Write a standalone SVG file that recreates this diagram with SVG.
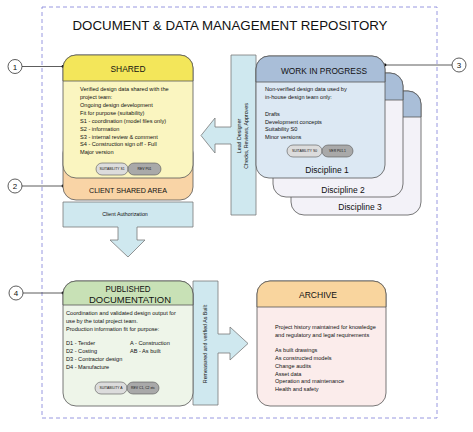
<svg xmlns="http://www.w3.org/2000/svg" width="473" height="432" viewBox="0 0 473 432">
<style>
text{font-family:"Liberation Sans",Arial,sans-serif;fill:#111}
.bd{font-size:5.6px}
.pl{font-size:3.4px;text-anchor:middle}
.bx{stroke:#555;stroke-width:0.8}
.bar{fill:#cfe8ef;stroke:#7a7a7a;stroke-width:0.8}
.cl{stroke:#333;stroke-width:0.8;fill:none}
.cc{fill:#fff;stroke:#333;stroke-width:0.8}
.cn{font-size:8px;text-anchor:middle}
.p1{fill:#dcdcdc;stroke:#555;stroke-width:0.6}
.p2{fill:#a9a9a9;stroke:#555;stroke-width:0.6}
.disc{font-size:8.5px;text-anchor:middle}
.rot{font-size:5.3px;text-anchor:middle}
</style>
<rect x="0" y="0" width="473" height="432" fill="#fff"/>
<rect x="42" y="7" width="395" height="411" fill="none" stroke="#8c8cdc" stroke-width="0.9" stroke-dasharray="4,3"/>
<text x="230" y="30" font-size="13" text-anchor="middle" textLength="315" lengthAdjust="spacingAndGlyphs">DOCUMENT &amp; DATA MANAGEMENT REPOSITORY</text>

<g id="connectors">
  <g id="lead-designer-arrow">
    <path class="bar" d="M231,55 H256 V215 H231 V144 H215 V153 L201,135.5 L215,118 V127 H231 Z"/>
    <text class="rot" transform="translate(241,136) rotate(-90)">Lead Designer</text>
    <text class="rot" transform="translate(248,136) rotate(-90)">Checks, Reviews, Approves</text>
  </g>
  <g id="client-authorization-arrow">
    <path class="bar" d="M63,202 H193 V227 H137 V240 H145 L128,257 L110,240 H118 V227 H63 Z"/>
    <text x="125" y="216" font-size="5.3" text-anchor="middle">Client Authorization</text>
  </g>
  <g id="remeasured-arrow">
    <path class="bar" d="M193,281 H218 V334 H230 V327 L248,343.5 L230,360 V353 H218 V405 H193 Z"/>
    <text class="rot" transform="translate(207,344) rotate(-90)">Remeasured and verified As Built</text>
  </g>
  <g id="callout-lines">
    <line class="cl" x1="22" y1="66.5" x2="63" y2="66.5"/>
    <circle cx="63" cy="66.5" r="1.4" fill="#111"/>
    <line class="cl" x1="22" y1="186" x2="63" y2="186"/>
    <circle cx="63" cy="186" r="1.4" fill="#111"/>
    <line class="cl" x1="385" y1="65" x2="452" y2="65"/>
    <circle cx="385" cy="65" r="1.4" fill="#111"/>
    <line class="cl" x1="23" y1="293" x2="63" y2="293"/>
    <circle cx="63" cy="293" r="1.4" fill="#111"/>
  </g>
</g>

<g id="callout-1"><circle class="cc" cx="15" cy="66.5" r="7"/><text class="cn" x="15" y="69.5">1</text></g>
<g id="callout-2"><circle class="cc" cx="15" cy="186" r="7"/><text class="cn" x="15" y="189">2</text></g>
<g id="callout-3"><circle class="cc" cx="459" cy="65" r="7"/><text class="cn" x="459" y="68">3</text></g>
<g id="callout-4"><circle class="cc" cx="16" cy="293" r="7"/><text class="cn" x="16" y="296">4</text></g>

<g id="client-shared-area">
  <rect class="bx" x="63" y="140" width="130" height="60" rx="13" fill="#f9d4a6"/>
  <text x="128" y="193" font-size="8" text-anchor="middle" textLength="78" lengthAdjust="spacingAndGlyphs">CLIENT SHARED AREA</text>
</g>

<g id="shared">
  <rect class="bx" x="63" y="55" width="130" height="123" rx="13" fill="#faf5c0"/>
  <path class="bx" d="M63,81 V68 A13,13 0 0 1 76,55 H180 A13,13 0 0 1 193,68 V81 Z" fill="#f3e65a"/>
  <text x="128" y="72" font-size="8.5" text-anchor="middle" textLength="35" lengthAdjust="spacingAndGlyphs">SHARED</text>
  <g class="bd">
    <text x="80" y="91">Verified design data shared with the</text>
    <text x="80" y="99">project team:</text>
    <text x="80" y="107">Ongoing design development</text>
    <text x="80" y="115">Fit for purpose (suitability)</text>
    <text x="80" y="123">S1 - coordination (model files only)</text>
    <text x="80" y="131">S2 - information</text>
    <text x="80" y="138.5">S3 - internal review &amp; comment</text>
    <text x="80" y="146">S4 - Construction sign off - Full</text>
    <text x="80" y="154">Major version</text>
  </g>
  <rect class="p1" x="96" y="163" width="32" height="12" rx="6"/>
  <rect class="p2" x="128" y="163" width="33" height="12" rx="6"/>
  <text class="pl" x="112" y="170.2">SUITABILITY S1</text>
  <text class="pl" x="144.5" y="170.2">REV P01</text>
</g>

<g id="discipline-3">
  <rect class="bx" x="291" y="91" width="130" height="124" rx="13" fill="#f3f2f8"/>
  <path class="bx" d="M291,117 V104 A13,13 0 0 1 304,91 H408 A13,13 0 0 1 421,104 V117 Z" fill="#a9bed8"/>
  <text class="disc" x="360" y="210">Discipline 3</text>
</g>
<g id="discipline-2">
  <rect class="bx" x="273" y="73" width="130" height="124" rx="13" fill="#f3f2f8"/>
  <path class="bx" d="M273,100 V86 A13,13 0 0 1 286,73 H390 A13,13 0 0 1 403,86 V100 Z" fill="#a9bed8"/>
  <text class="disc" x="343" y="193">Discipline 2</text>
</g>
<g id="work-in-progress">
  <rect class="bx" x="256" y="56" width="129" height="122" rx="13" fill="#dce8f3"/>
  <path class="bx" d="M256,82 V69 A13,13 0 0 1 269,56 H372 A13,13 0 0 1 385,69 V82 Z" fill="#a9bed8"/>
  <text x="324" y="74" font-size="8.5" text-anchor="middle" textLength="86" lengthAdjust="spacingAndGlyphs">WORK IN PROGRESS</text>
  <g class="bd">
    <text x="265" y="91">Non-verified design data used by</text>
    <text x="265" y="99">in-house design team only:</text>
    <text x="265" y="116">Drafts</text>
    <text x="265" y="123.5">Development concepts</text>
    <text x="265" y="131">Suitability S0</text>
    <text x="265" y="138.5">Minor versions</text>
  </g>
  <rect class="p1" x="287" y="145" width="35" height="12" rx="6"/>
  <rect class="p2" x="322" y="145" width="31" height="12" rx="6"/>
  <text class="pl" x="304.5" y="152.2">SUITABILITY S0</text>
  <text class="pl" x="337.5" y="152.2">VER P01.1</text>
  <text class="disc" x="327" y="173">Discipline 1</text>
</g>

<g id="published-documentation">
  <rect class="bx" x="63" y="281" width="130" height="125" rx="13" fill="#eef5e9"/>
  <path class="bx" d="M63,305 V294 A13,13 0 0 1 76,281 H180 A13,13 0 0 1 193,294 V305 Z" fill="#c8e1b6"/>
  <text x="128" y="291.5" font-size="8.5" text-anchor="middle" textLength="45" lengthAdjust="spacingAndGlyphs">PUBLISHED</text>
  <text x="130" y="303" font-size="8.5" text-anchor="middle" textLength="82" lengthAdjust="spacingAndGlyphs">DOCUMENTATION</text>
  <g class="bd">
    <text x="66" y="315">Coordination and validated design output for</text>
    <text x="66" y="323">use by the total project team.</text>
    <text x="66" y="330.5">Production information fit for purpose:</text>
    <text x="66" y="345">D1 - Tender</text>
    <text x="130" y="345">A - Construction</text>
    <text x="66" y="353">D2 - Costing</text>
    <text x="130" y="353">AB - As built</text>
    <text x="66" y="361">D3 - Contractor design</text>
    <text x="66" y="369">D4 - Manufacture</text>
  </g>
  <rect class="p1" x="95" y="382" width="32" height="12" rx="6"/>
  <rect class="p2" x="127" y="382" width="32" height="12" rx="6"/>
  <text class="pl" x="111" y="389.2">SUITABILITY A</text>
  <text class="pl" x="143" y="389.2">REV C1, C2 etc</text>
</g>

<g id="archive">
  <rect class="bx" x="257" y="281" width="129" height="125" rx="13" fill="#fbeceb"/>
  <path class="bx" d="M257,307 V294 A13,13 0 0 1 270,281 H373 A13,13 0 0 1 386,294 V307 Z" fill="#f9d59e"/>
  <text x="318" y="298" font-size="8.5" text-anchor="middle" textLength="38" lengthAdjust="spacingAndGlyphs">ARCHIVE</text>
  <g class="bd">
    <text x="275" y="329">Project history maintained for knowledge</text>
    <text x="275" y="337">and regulatory and legal requirements</text>
    <text x="275" y="352">As built drawings</text>
    <text x="275" y="360">As constructed models</text>
    <text x="275" y="368">Change audits</text>
    <text x="275" y="375.5">Asset data</text>
    <text x="275" y="383">Operation and maintenance</text>
    <text x="275" y="391">Health and safety</text>
  </g>
</g>
</svg>
